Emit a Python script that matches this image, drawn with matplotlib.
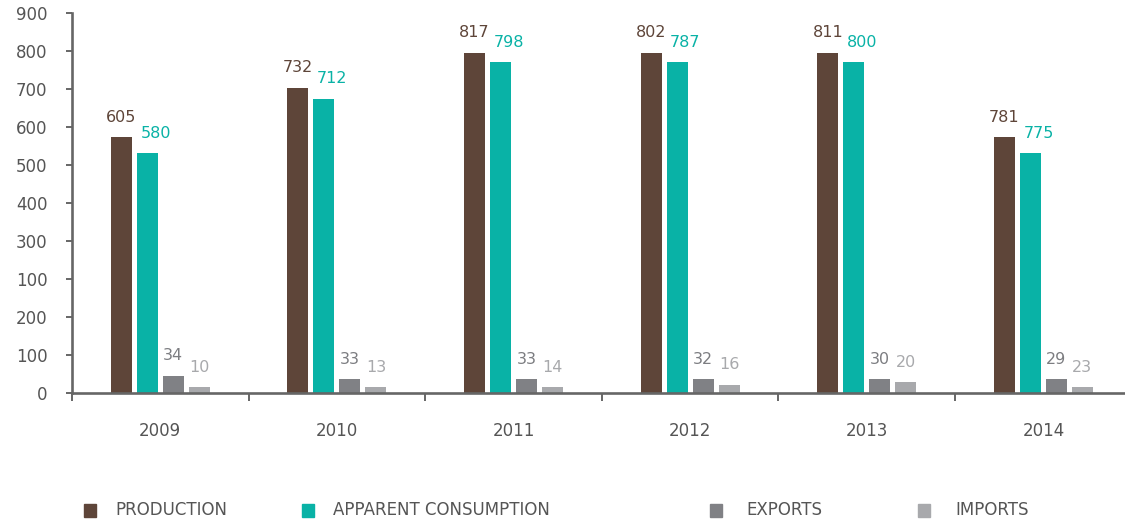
import matplotlib
matplotlib.use("Agg")
import matplotlib.pyplot as plt
from matplotlib.patches import Rectangle
import numpy as np

years = ["2009", "2010", "2011", "2012", "2013", "2014"]
series = ["PRODUCTION", "APPARENT CONSUMPTION", "EXPORTS", "IMPORTS"]

# bar heights as drawn in the source picture (axis units)
bar_production = [606, 723, 806, 806, 806, 606]
bar_consumption = [568, 697, 784, 784, 784, 568]
bar_exports = [40, 32, 32, 32, 32, 32]
bar_imports = [13, 13, 13, 18, 25, 13]

# value labels printed above the bars
lab_production = [605, 732, 817, 802, 811, 781]
lab_consumption = [580, 712, 798, 787, 800, 775]
lab_exports = [34, 33, 33, 32, 30, 29]
lab_imports = [10, 13, 14, 16, 20, 23]

# y tick labels as printed, bottom to top
ytick_labels = ["0", "100", "200", "100", "300", "400", "500", "600", "700", "800", "900"]

bar_colors = ["#5E4539", "#09B2A6", "#808185", "#A8A9AC"]
label_colors = ["#5E4539", "#09B2A6", "#7C7D81", "#A8A9AC"]
axis_color = "#666666"
text_color = "#555555"

plt.rcParams["font.family"] = ["DejaVu Sans"]

W, H = 1125, 524
fig = plt.figure(figsize=(W / 100, H / 100), dpi=100)
ax = fig.add_axes([72 / W, 131.3 / H, (1131.7 - 72) / W, (510.7 - 131.3) / H])

heights = [bar_production, bar_consumption, bar_exports, bar_imports]
labels = [lab_production, lab_consumption, lab_exports, lab_imports]
x = np.arange(len(years)) + 0.5
pitch = 26 / 176.6
width = 21 / 176.6
label_dx = [0, 6, 0, 0]

for i in range(4):
    pos = x + (i - 1.5) * pitch
    ax.bar(pos, heights[i], width, color=bar_colors[i], zorder=2)
    for px, h, v in zip(pos, heights[i], labels[i]):
        ax.annotate(str(v), (px, h), xytext=(label_dx[i], 14.5), textcoords="offset points",
                    ha="center", va="center", fontsize=11.5, color=label_colors[i])

ax.set_xlim(0, 6)
ax.set_ylim(0, 900)

ax.set_yticks(np.arange(0, 901, 90))
ax.set_yticklabels(ytick_labels)
ax.set_xticks(np.arange(0, 7))
ax.set_xticklabels([])
ax.set_xticks(x, minor=True)
ax.set_xticklabels(years, minor=True)

for s in ["top", "right"]:
    ax.spines[s].set_visible(False)
for s in ["left", "bottom"]:
    ax.spines[s].set_color(axis_color)
    ax.spines[s].set_linewidth(1.9)
    ax.spines[s].set_zorder(3)

ax.tick_params(axis="y", direction="out", length=4.3, width=1.4, color=axis_color,
               pad=13.5, labelsize=12, labelcolor=text_color)
ax.tick_params(axis="x", which="major", direction="out", length=5.8, width=1.4,
               color=axis_color)
ax.tick_params(axis="x", which="minor", length=0, pad=21, labelsize=12,
               labelcolor=text_color)

# legend row
legend_sq = [84, 302, 710, 918]
legend_tx = [115, 333, 746, 955]
ly = 524 - 510
for i in range(4):
    fig.patches.append(Rectangle((legend_sq[i] / W, (ly - 6.5) / H), 12 / W, 13 / H,
                                 transform=fig.transFigure, color=bar_colors[i]))
    fig.text(legend_tx[i] / W, ly / H, series[i], ha="left", va="center",
             fontsize=12, color=text_color)

fig.savefig("out.png", dpi=100)
